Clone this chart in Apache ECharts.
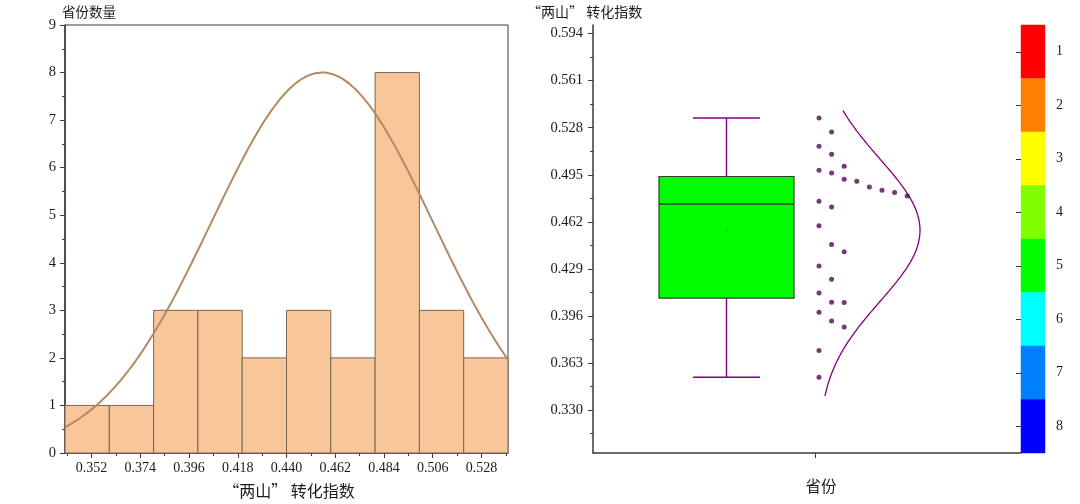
<!DOCTYPE html>
<html><head><meta charset="utf-8">
<script src="https://cdn.jsdelivr.net/npm/echarts@6/dist/echarts.min.js"></script>
<style>html,body{margin:0;padding:0;background:#fff}#c{width:1080px;height:504px}</style>
</head><body><div id="c"></div>
<script>
// ---- data ----
const indexValues = [0.3531,0.3718,0.3884,0.3926,0.3987,0.4055,0.4057,0.4122,0.4218,0.4311,0.4410,0.4461,0.4592,0.4725,0.4765,0.4802,0.4826,0.4842,0.4865,0.4905,0.4919,0.4963,0.4982,0.5010,0.5094,0.5150,0.5250,0.5348];
const binStarts = [0.34,0.36,0.38,0.40,0.42,0.44,0.46,0.48,0.50,0.52];
const binCounts = [1,1,3,3,2,3,2,8,3,2];
const binWidth = 0.02;
const histTicks = [0.352,0.374,0.396,0.418,0.440,0.462,0.484,0.506,0.528];
const indexTicks = [0.330,0.363,0.396,0.429,0.462,0.495,0.528,0.561,0.594];
const boxStats = [0.3531,0.4086,0.4745,0.4938,0.5348]; // min, Q1, median, Q3, max
const colorLevels = [1,2,3,4,5,6,7,8];
const colorPalette = ['#FF0000','#FF8000','#FFFF00','#80FF00','#00FF00','#00FFFF','#0080FF','#0000FF'];

// ---- derived ----
const n = indexValues.length;
const mean = indexValues.reduce((a,b)=>a+b,0)/n;
const sd = Math.sqrt(indexValues.reduce((a,b)=>a+(b-mean)*(b-mean),0)/(n-1));
const maxCount = Math.max(...binCounts);
const histMin = binStarts[0], histMax = binStarts[binStarts.length-1]+binWidth;

const histData = binStarts.map((s,i)=>[s, s+binWidth, binCounts[i]]);
const leftCurve = [];
for (let k=0;k<=200;k++){ const x=histMin+(histMax-histMin)*k/200; leftCurve.push([x, maxCount*Math.exp(-(x-mean)*(x-mean)/(2*sd*sd))]); }

// minor ticks (midpoints)
function mids(t, lo, hi){ const step=t[1]-t[0]; const r=[]; for(let v=t[0]-step/2; v<hi+1e-9; v+=step){ if(v>lo-1e-9) r.push(+v.toFixed(4)); } return r; }
const histMinor = mids(histTicks, histMin, histMax);
const indexMinor = mids(indexTicks, 0.3, 0.6);

// right panel layout in x-axis units (axis spans 0..428)
const BOX_C = 133.5, BOX_HW = 67.5, CAP_HW = 33.5, CAT_X = 222, DOT_X0 = 226, DOT_STEP = 12.6, CURVE_X0 = 225, CURVE_AMP = 102;

// dot arrangement: rank inside histogram bin (descending)
const dotData = [];
const groups = {};
indexValues.forEach(v=>{ const b=Math.floor((v-histMin)/binWidth+1e-9); (groups[b]=groups[b]||[]).push(v); });
Object.keys(groups).forEach(b=>{ groups[b].sort((a,c)=>c-a).forEach((v,r)=>dotData.push([DOT_X0+r*DOT_STEP, v])); });

const rightCurve = [];
for (let k=0;k<=200;k++){ const y=histMin+(histMax-histMin)*k/200; rightCurve.push([CURVE_X0+CURVE_AMP*Math.exp(-(y-mean)*(y-mean)/(2*sd*sd)), y]); }

const AX = '#3a3a3a', TXT = '#1a1a1a', SERIF = 'Liberation Serif', CJK = 'Noto Sans CJK SC';

const chart = echarts.init(document.getElementById('c'), null, {renderer:'canvas'});
chart.setOption({
  animation:false,
  backgroundColor:'#fff',
  grid:[
    {left:65, top:25, width:443, height:428, show:true, borderColor:AX, borderWidth:1},
    {left:593, top:25, width:428, height:428},
    {left:1021, top:25, width:24, height:428}
  ],
  xAxis:[
    {gridIndex:0, type:'value', min:histMin, max:histMax, position:'bottom',
      axisLine:{show:true, lineStyle:{color:AX, width:1.5}},
      axisTick:{show:true, inside:false, length:5, customValues:histTicks, lineStyle:{color:AX}},
      axisLabel:{show:true, customValues:histTicks, formatter:v=>v.toFixed(3), fontFamily:SERIF, fontSize:14, color:TXT, margin:8},
      splitLine:{show:false}},
    {gridIndex:0, type:'value', min:histMin, max:histMax, position:'bottom',
      axisLine:{show:false}, axisLabel:{show:false}, splitLine:{show:false},
      axisTick:{show:true, length:3, customValues:histMinor, lineStyle:{color:AX}}},
    {gridIndex:1, type:'value', min:0, max:428, position:'bottom',
      axisLine:{show:true, lineStyle:{color:AX, width:1.5}},
      axisTick:{show:true, length:5, customValues:[CAT_X], lineStyle:{color:AX}},
      axisLabel:{show:false}, splitLine:{show:false}},
    {gridIndex:2, type:'value', min:0, max:1, show:false}
  ],
  yAxis:[
    {gridIndex:0, type:'value', min:0, max:9, interval:1,
      axisLine:{show:true, lineStyle:{color:AX, width:1.5}},
      axisTick:{show:true, length:5, lineStyle:{color:AX}},
      minorTick:{show:true, splitNumber:2, length:3, lineStyle:{color:AX}},
      axisLabel:{fontFamily:SERIF, fontSize:14.5, color:TXT, margin:9},
      splitLine:{show:false}},
    {gridIndex:1, type:'value', min:0.3, max:0.6,
      axisLine:{show:true, lineStyle:{color:AX, width:1.5}},
      axisTick:{show:true, length:5, customValues:indexTicks, lineStyle:{color:AX}},
      axisLabel:{customValues:indexTicks, formatter:v=>v.toFixed(3), fontFamily:SERIF, fontSize:14.5, color:TXT, margin:10},
      splitLine:{show:false}},
    {gridIndex:1, type:'value', min:0.3, max:0.6, position:'left',
      axisLine:{show:false}, axisLabel:{show:false}, splitLine:{show:false},
      axisTick:{show:true, length:3, customValues:indexMinor, lineStyle:{color:AX}}},
    {gridIndex:2, type:'value', min:0.5, max:8.5, inverse:true, position:'right', z:10,
      axisLine:{show:true, lineStyle:{color:'rgba(0,0,0,0)'}},
      axisTick:{show:true, inside:true, length:5, customValues:colorLevels, lineStyle:{color:'#333', width:1}},
      axisLabel:{customValues:colorLevels, fontFamily:SERIF, fontSize:14, color:TXT, margin:11},
      splitLine:{show:false}}
  ],
  series:[
    {type:'custom', xAxisIndex:0, yAxisIndex:0, data:histData, encode:{x:[0,1], y:2},
      renderItem:(params, api)=>{
        const p0=api.coord([api.value(0), api.value(2)]), p1=api.coord([api.value(1), 0]);
        return {type:'rect', shape:{x:p0[0], y:p0[1], width:p1[0]-p0[0], height:p1[1]-p0[1]},
          style:{fill:'#F9C699', stroke:'#7a6656', lineWidth:1}};
      }},
    {type:'line', xAxisIndex:0, yAxisIndex:0, data:leftCurve, showSymbol:false, smooth:false,
      lineStyle:{color:'#B38A64', width:2}, z:5},
    {type:'custom', xAxisIndex:2, yAxisIndex:1, data:[[BOX_C].concat(boxStats).concat([mean])], encode:{x:0, y:[1,2,3,4,5]},
      renderItem:(params, api)=>{
        const c=api.value(0);
        const pt=(x,y)=>api.coord([x,y]);
        const L=pt(c-BOX_HW,0)[0], R=pt(c+BOX_HW,0)[0], C=pt(c,0)[0];
        const cl=pt(c-CAP_HW,0)[0], cr=pt(c+CAP_HW,0)[0];
        const yMin=pt(c,api.value(1))[1], yQ1=pt(c,api.value(2))[1], yMed=pt(c,api.value(3))[1], yQ3=pt(c,api.value(4))[1], yMax=pt(c,api.value(5))[1], yMean=pt(c,api.value(6))[1];
        const wh={stroke:'#800080', lineWidth:1.4};
        return {type:'group', children:[
          {type:'line', shape:{x1:C,y1:yQ3,x2:C,y2:yMax}, style:wh},
          {type:'line', shape:{x1:C,y1:yQ1,x2:C,y2:yMin}, style:wh},
          {type:'line', shape:{x1:cl,y1:yMax,x2:cr,y2:yMax}, style:wh},
          {type:'line', shape:{x1:cl,y1:yMin,x2:cr,y2:yMin}, style:wh},
          {type:'rect', shape:{x:L,y:yQ3,width:R-L,height:yQ1-yQ3}, style:{fill:'#00FF00', stroke:'#2f3f2f', lineWidth:1.2}},
          {type:'line', shape:{x1:L,y1:yMed,x2:R,y2:yMed}, style:{stroke:'#2f3f2f', lineWidth:1.6}},
          {type:'circle', shape:{cx:C, cy:yMean, r:1.5}, style:{fill:'#1fbf1f'}}
        ]};
      }},
    {type:'scatter', xAxisIndex:2, yAxisIndex:1, data:dotData, symbol:'circle', symbolSize:5,
      itemStyle:{color:'#520852'}, z:4},
    {type:'line', xAxisIndex:2, yAxisIndex:1, data:rightCurve, showSymbol:false, smooth:false,
      lineStyle:{color:'#800080', width:1.3}, z:3},
    {type:'custom', xAxisIndex:3, yAxisIndex:3, data:colorLevels.map((l,i)=>[l, i]), encode:{y:0}, z:1,
      renderItem:(params, api)=>{
        const lv=api.value(0);
        const p0=api.coord([0, lv-0.5]), p1=api.coord([1, lv+0.5]);
        return {type:'rect', shape:{x:p0[0], y:p0[1], width:p1[0]-p0[0], height:p1[1]-p0[1]},
          style:{fill:colorPalette[api.value(1)], stroke:colorPalette[api.value(1)], lineWidth:0.5}};
      }}
  ],
  graphic:[
    {type:'text', left:62, top:5, style:{text:'省份数量', fontFamily:CJK, fontSize:13.5, fill:TXT}},
    {type:'text', left:527, top:5, style:{text:'“两山” 转化指数', fontFamily:CJK, fontSize:14, fill:TXT}},
    {type:'text', x:289, y:491, style:{text:'“两山” 转化指数', fontFamily:CJK, fontSize:16, fill:TXT, align:'center', verticalAlign:'middle'}},
    {type:'text', x:821, y:486, style:{text:'省份', fontFamily:CJK, fontSize:15.5, fill:TXT, align:'center', verticalAlign:'middle'}}
  ]
});
</script>
</body></html>
